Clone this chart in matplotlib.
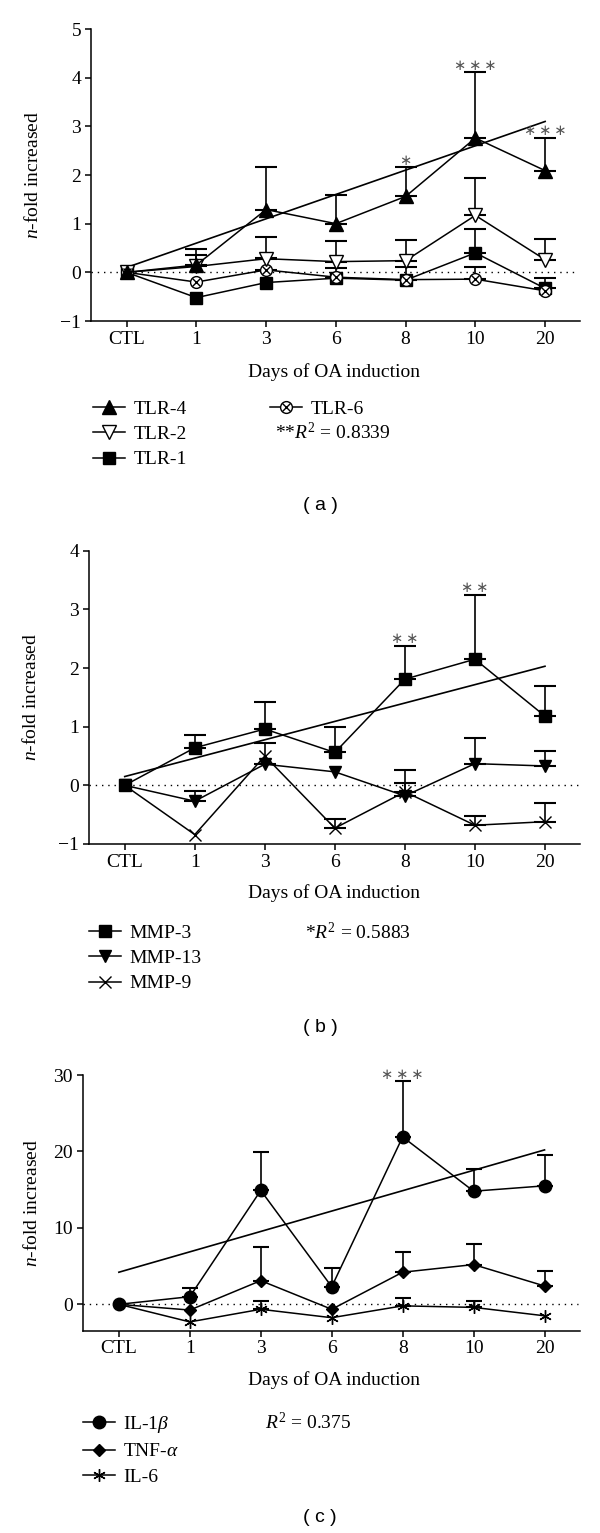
import numpy as np
import matplotlib
matplotlib.use('Agg')
import matplotlib.pyplot as plt

plt.rcParams['font.family'] = ['Liberation Serif', 'DejaVu Serif']
plt.rcParams['mathtext.fontset'] = 'custom'
plt.rcParams['mathtext.rm'] = 'Liberation Serif'
plt.rcParams['mathtext.it'] = 'Liberation Serif:italic'
plt.rcParams['font.size'] = 14

days = ['CTL', '1', '3', '6', '8', '10', '20']

# (a) TLR expression, mean and upper SEM
tlr4 = [0, 0.15, 1.29, 1.0, 1.56, 2.76, 2.09]
tlr4_err = [0, 0.32, 0.87, 0.58, 0.60, 1.35, 0.68]
tlr2 = [0, 0.12, 0.28, 0.22, 0.24, 1.17, 0.26]
tlr2_err = [0, 0.24, 0.44, 0.42, 0.43, 0.77, 0.43]
tlr1 = [0, -0.52, -0.21, -0.12, -0.16, 0.40, -0.33]
tlr1_err = [0, 0, 0, 0.20, 0.26, 0.5, 0.22]
tlr6 = [0, -0.2, 0.05, -0.1, -0.15, -0.14, -0.38]
tlr6_err = [0, 0, 0.25, 0, 0, 0.25, 0]
fit_a = [0.1, 3.1]
stars_a = [(4, 1), (5, 3), (6, 3)]

# (b) MMP expression
mmp3 = [0, 0.64, 0.96, 0.56, 1.81, 2.15, 1.18]
mmp3_err = [0, 0.22, 0.46, 0.44, 0.57, 1.10, 0.51]
mmp13 = [0, -0.27, 0.36, 0.23, -0.18, 0.37, 0.33]
mmp13_err = [0, 0.17, 0.37, 0, 0.45, 0.43, 0.26]
mmp9 = [0, -0.84, 0.5, -0.73, -0.11, -0.68, -0.62]
mmp9_err = [0, 0, 0, 0.15, 0.15, 0.15, 0.32]
fit_b = [0.15, 2.03]
stars_b = [(4, 2), (5, 2)]

# (c) cytokines
il1b = [0, 1.0, 14.9, 2.3, 21.9, 14.8, 15.5]
il1b_err = [0, 1.2, 5.0, 2.5, 7.3, 2.9, 4.1]
tnfa = [0, -0.75, 3.1, -0.65, 4.2, 5.2, 2.4]
tnfa_err = [0, 0, 4.4, 0, 2.7, 2.7, 2.0]
il6 = [0, -2.3, -0.65, -1.75, -0.2, -0.4, -1.5]
il6_err = [0, 0, 1.08, 0, 1.07, 0.87, 0]
fit_c = [4.2, 20.2]
stars_c = [(4, 3)]

W, H = 600, 1533
fig = plt.figure(figsize=(W / 100, H / 100), dpi=100)

def fx(px):
    return px / W

def fy(py):
    return 1 - py / H

def make_ax(left, top, bottom, ylim, yticks):
    ax = fig.add_axes([fx(left), fy(bottom), fx(580 - left), (bottom - top) / H])
    ax.set_xlim(-0.51, 6.5)
    ax.set_ylim(*ylim)
    ax.set_xticks(range(len(days)))
    ax.set_xticklabels(days)
    ax.set_yticks(yticks)
    ax.spines['top'].set_visible(False)
    ax.spines['right'].set_visible(False)
    ax.spines['left'].set_linewidth(1.1)
    ax.spines['bottom'].set_linewidth(1.1)
    ax.axhline(0, xmax=0.995, color='k', lw=1, ls=(0, (1, 3.5)), zorder=1)
    ax.tick_params(direction='out', length=4, width=1.1, labelsize=14, pad=3)
    ax.set_ylabel('$n$-fold increased', fontsize=14)
    return ax

def series(ax, y, err, marker, ms, mfc='k', capsize=8, mew=1.0):
    x = np.arange(len(days))
    y = np.array(y, dtype=float)
    err = np.array(err, dtype=float)
    m = err > 0
    ax.errorbar(x[m], y[m], yerr=[np.zeros(m.sum()), err[m]], fmt='none',
                ecolor='k', elinewidth=1.2, capsize=capsize, capthick=1.5, zorder=2)
    line, = ax.plot(x, y, color='k', lw=1.1, marker=marker, ms=ms,
                    mfc=mfc, mec='k', mew=mew, zorder=3)
    return line

def trend(ax, fit):
    ax.plot([0, len(days) - 1], fit, color='k', lw=1.2, zorder=2)

def stars(ax, marks, means, errs):
    for i, n in marks:
        ax.annotate('\u2009'.join(['∗'] * n), (i, means[i] + errs[i]), xytext=(0, 5),
                    textcoords='offset points', ha='center', va='center',
                    color='#555555', fontsize=10.5, family=['DejaVu Sans'])

def xlabel(py):
    fig.text(fx(334), fy(py), 'Days of OA induction', ha='center', va='center', fontsize=14)

leg_kw = dict(loc='upper left', frameon=False, handlelength=1.65, handletextpad=0.42,
              labelspacing=0.4, borderpad=0, borderaxespad=0, fontsize=14)

# ---- panel (a)
ax = make_ax(91, 29, 321, (-1, 5), range(-1, 6))
ax.yaxis.set_label_coords(-0.10, 0.5)
trend(ax, fit_a)
h1 = series(ax, tlr1, tlr1_err, 's', 8.5)
h6 = series(ax, tlr6, tlr6_err, 'o', 8.5, mfc='white')
h6x, = ax.plot(range(len(days)), tlr6, ls='none', marker='x', ms=5.5, mec='k', mew=1, zorder=4)
h2 = series(ax, tlr2, tlr2_err, 'v', 10, mfc='white')
h4 = series(ax, tlr4, tlr4_err, '^', 9.5)
stars(ax, stars_a, tlr4, tlr4_err)
xlabel(372)
fig.legend([h4, h2, h1], ['TLR-4', 'TLR-2', 'TLR-1'], bbox_to_anchor=(fx(93), fy(400)), **leg_kw)
fig.legend([(h6, h6x)], ['TLR-6'], bbox_to_anchor=(fx(270), fy(400)), **leg_kw)
fig.text(fx(275), fy(433), '**$R^2$ = 0.8339', ha='left', va='center', fontsize=14)
fig.text(fx(320), fy(505), '( a )', ha='center', va='center', fontsize=14, family='Liberation Sans')

# ---- panel (b)
ax = make_ax(89, 550.7, 844, (-1, 4), range(-1, 5))
ax.yaxis.set_label_coords(-0.10, 0.5)
trend(ax, fit_b)
h9 = series(ax, mmp9, mmp9_err, 'x', 9)
h13 = series(ax, mmp13, mmp13_err, 'v', 9)
h3 = series(ax, mmp3, mmp3_err, 's', 8.5)
stars(ax, stars_b, mmp3, mmp3_err)
xlabel(893)
fig.legend([h3, h13, h9], ['MMP-3', 'MMP-13', 'MMP-9'], bbox_to_anchor=(fx(89), fy(924)), **leg_kw)
fig.text(fx(305), fy(932), '*$R^2$ = 0.5883', ha='left', va='center', fontsize=14)
fig.text(fx(320), fy(1028), '( b )', ha='center', va='center', fontsize=14, family='Liberation Sans')

# ---- panel (c)
ax = make_ax(82.7, 1075, 1330.7, (-3.45, 30), [0, 10, 20, 30])
ax.yaxis.set_label_coords(-0.084, 0.5)
trend(ax, fit_c)
h_il6 = series(ax, il6, il6_err, (6, 2, 0), 9, capsize=6)
h_tnf = series(ax, tnfa, tnfa_err, 'D', 6.5, capsize=6)
h_il1 = series(ax, il1b, il1b_err, 'o', 9, capsize=6)
stars(ax, stars_c, il1b, il1b_err)
xlabel(1380)
fig.legend([h_il1, h_tnf, h_il6], [r'IL-1$\beta$', r'TNF-$\alpha$', 'IL-6'],
           bbox_to_anchor=(fx(83), fy(1414)), **leg_kw)
fig.text(fx(265), fy(1422), '$R^2$ = 0.375', ha='left', va='center', fontsize=14)
fig.text(fx(320), fy(1517), '( c )', ha='center', va='center', fontsize=14, family='Liberation Sans')

fig.savefig('out.png', dpi=100)
